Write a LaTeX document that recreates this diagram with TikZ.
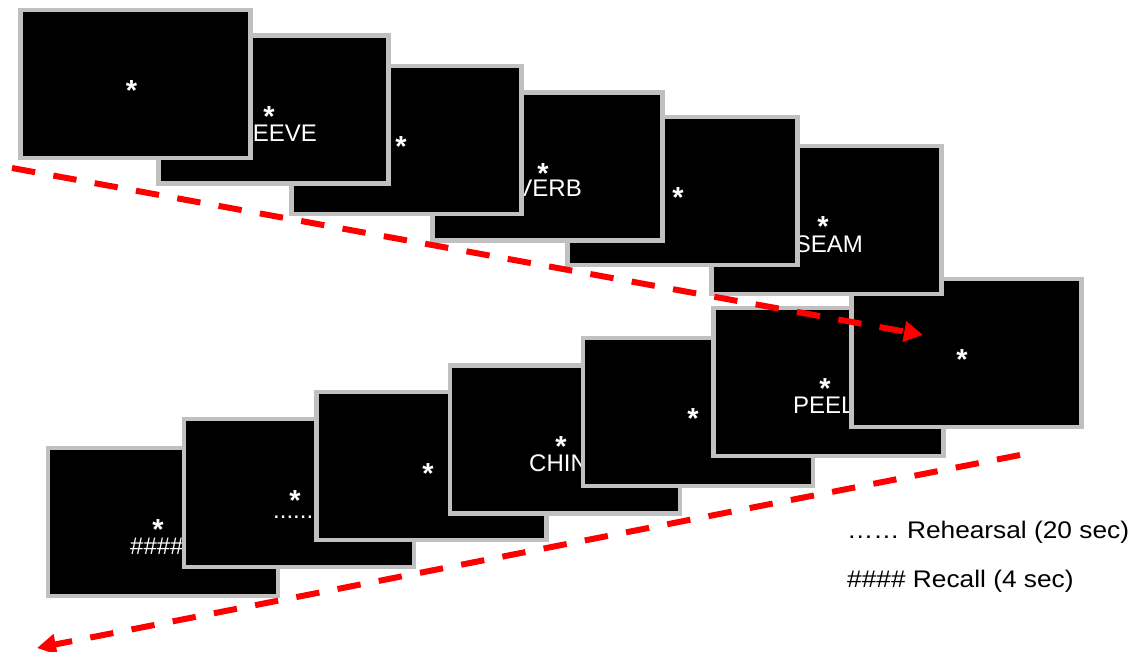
\documentclass[tikz,border=0pt]{standalone}
\usepackage{fontspec}
\setmainfont{Liberation Sans}
\usetikzlibrary{arrows.meta}
\definecolor{framegray}{HTML}{C0C0C0}
\definecolor{arrred}{HTML}{FF0000}
\begin{document}
\begin{tikzpicture}[x=1pt,y=-1pt,
  screen/.style={draw=framegray, fill=black, line width=4.5pt, minimum width=230pt, minimum height=148pt, inner sep=0pt, outer sep=0pt},
  fixmark/.style={text=white, font=\bfseries\fontsize{29}{29}\selectfont, inner sep=0pt, anchor=base},
  word/.style={text=white, font=\fontsize{24}{24}\selectfont, inner sep=0pt},
  legendtext/.style={text=black, font=\fontsize{24}{24}\selectfont, inner sep=0pt, anchor=base west},
  flow/.style={draw=arrred, line width=6pt, dash pattern=on 23.5pt off 18.5pt, -{Triangle[length=19pt,width=20pt]}}]
\useasboundingbox (0,0) rectangle (1145,652);
% bottom row (right frames on top)
\node[screen] (f13) at (163,522) {};
\node[fixmark] (s13) at (158,539.5) {*};
\node[word, anchor=base west] (w13) at (130,554) {\#\#\#\#};
\node[screen] (f12) at (299,493) {};
\node[fixmark] (s12) at (295,510.5) {*};
\node[word, anchor=base west] (w12) at (273,518) {......};
\node[screen] (f11) at (431.5,466) {};
\node[fixmark] (s11) at (428,483.5) {*};
\node[screen] (f10) at (565,439.5) {};
\node[fixmark] (s10) at (561,456.5) {*};
\node[word, anchor=base west] (w10) at (529,471) {CHIN};
\node[screen] (f9) at (698,412) {};
\node[fixmark] (s9) at (693,428.5) {*};
\node[screen] (f8) at (828.5,382) {};
\node[fixmark] (s8) at (825,398.5) {*};
\node[word, anchor=base west] (w8) at (793,413) {PEEL};
\node[screen] (f7) at (966.5,353) {};
\node[fixmark] (s7) at (962,369.5) {*};
% top row (left frames on top)
\node[screen] (f6) at (826.5,220) {};
\node[fixmark] (s6) at (823,236.5) {*};
\node[word, anchor=base east] (w6) at (863,253) {SEAM};
\node[screen] (f5) at (682.5,191) {};
\node[fixmark] (s5) at (678,207.5) {*};
\node[screen] (f4) at (547.5,166.5) {};
\node[fixmark] (s4) at (543,183.5) {*};
\node[word, anchor=base east] (w4) at (582,197) {VERB};
\node[screen] (f3) at (406.5,140) {};
\node[fixmark] (s3) at (401,156.5) {*};
\node[screen] (f2) at (273.5,109.5) {};
\node[fixmark] (s2) at (269,126.5) {*};
\node[word, anchor=base east] (w2) at (317,142) {EEVE};
\node[screen] (f1) at (135.5,84) {};
\node[fixmark] (s1) at (131.5,100.5) {*};
% arrows
\coordinate (a1s) at (12,168);
\coordinate (a1e) at (923,335);
\coordinate (a2s) at (1020,455);
\coordinate (a2e) at (37,648);
\draw[flow] (a1s) -- (a1e);
\draw[flow] (a2s) -- (a2e);
% legend
\node[legendtext] (l1) at (847,538) {\scalebox{1.095}[1]{…… Rehearsal (20 sec)}};
\node[legendtext] (l2) at (847,587) {\scalebox{1.095}[1]{\#\#\#\# Recall (4 sec)}};
\end{tikzpicture}
\end{document}
